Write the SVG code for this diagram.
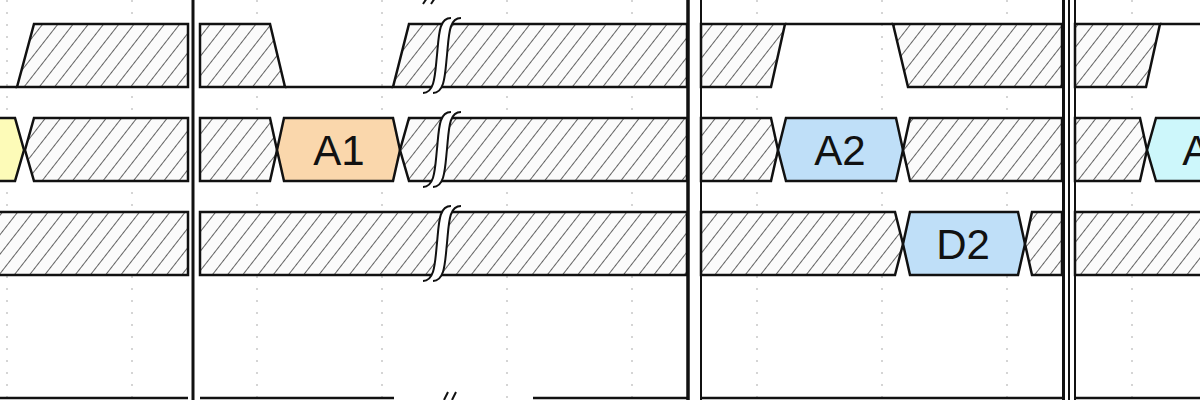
<svg xmlns="http://www.w3.org/2000/svg" width="1200" height="400" viewBox="0 0 1200 400">
<style>
.g{stroke:#c8c8c8;stroke-width:1.5;stroke-dasharray:2 10}
.h{fill:url(#hatch);stroke:#111;stroke-width:2.5;stroke-linejoin:miter}
.ln{fill:none;stroke:#111;stroke-width:2.5}
.bk{fill:#fff;stroke:none}
.bc{fill:none;stroke:#111;stroke-width:2}
.t{font-family:"Liberation Sans",Arial,sans-serif;font-size:42px;fill:#111;text-anchor:middle}
.v{stroke:#111}
</style>
<defs>
<pattern id="hatch" patternUnits="userSpaceOnUse" width="12" height="12" patternTransform="rotate(38)">
<rect width="12" height="12" fill="#fbfbfb"/>
<line x1="0" y1="0" x2="0" y2="12" stroke="#222" stroke-width="1.4"/>
</pattern>
<g id="brk">
<path class="bk" d="M-22,69 C-10,69 -10,50 -8,31 C-6,10 -6,-6 6,-6 L16,-6 C4,-6 4,10 2,31 C0,50 0,69 -12,69 Z"/>
<path class="bc" d="M-22,69 C-10,69 -10,50 -8,31 C-6,10 -6,-6 6,-6"/>
<path class="bc" d="M-12,69 C0,69 0,50 2,31 C4,10 4,-6 16,-6"/>
</g>
</defs>
<g id="grid">
<line class="g" x1="7" y1="0" x2="7" y2="400"/>
<line class="g" x1="132" y1="0" x2="132" y2="400"/>
<line class="g" x1="257" y1="0" x2="257" y2="400"/>
<line class="g" x1="382" y1="0" x2="382" y2="400"/>
<line class="g" x1="507" y1="0" x2="507" y2="400"/>
<line class="g" x1="632" y1="0" x2="632" y2="400"/>
<line class="g" x1="757" y1="0" x2="757" y2="400"/>
<line class="g" x1="882" y1="0" x2="882" y2="400"/>
<line class="g" x1="1007" y1="0" x2="1007" y2="400"/>
<line class="g" x1="1132" y1="0" x2="1132" y2="400"/>
</g>
<g id="row1">
<path class="ln" d="M0,87 H17"/>
<path class="h" d="M17,87 L34,24 H188 V87 Z"/>
<path class="h" d="M200,24 H270 L285,87 H200 Z"/>
<path class="ln" d="M285,87 H393"/>
<path class="h" d="M393,87 L409,24 H687 V87 Z"/>
<path class="h" d="M701,24 H785 L771,87 H701 Z"/>
<path class="ln" d="M785,24 H893"/>
<path class="h" d="M893,24 H1062 V87 H908 Z"/>
<path class="h" d="M1075,24 H1160 L1146,87 H1075 Z"/>
<path class="ln" d="M1160,24 H1200"/>
<use href="#brk" x="445" y="24"/>
</g>
<g id="row2">
<path d="M-10,118 H15 L24,150 L15,181 H-10 Z" fill="#fdfbb8" stroke="#111" stroke-width="2.5"/>
<path class="h" d="M25,150 L34,118 H188 V181 H34 Z"/>
<path class="h" d="M200,118 H270 L277,150 L270,181 H200 Z"/>
<path d="M277,150 L284,118 H393 L400,150 L393,181 H284 Z" fill="#fad7ac" stroke="#111" stroke-width="2.5"/>
<path class="h" d="M400,150 L409,118 H687 V181 H409 Z"/>
<path class="h" d="M701,118 H771 L778,150 L771,181 H701 Z"/>
<path d="M778,150 L786,118 H896 L903,150 L896,181 H786 Z" fill="#bfdff8" stroke="#111" stroke-width="2.5"/>
<path class="h" d="M903,150 L910,118 H1062 V181 H910 Z"/>
<path class="h" d="M1075,118 H1140 L1147,150 L1140,181 H1075 Z"/>
<path d="M1147,150 L1156,118 H1210 V181 H1156 Z" fill="#cdf7fb" stroke="#111" stroke-width="2.5"/>
<text class="t" x="339" y="165">A1</text>
<text class="t" x="840" y="165">A2</text>
<text class="t" x="1208" y="165">A3</text>
<use href="#brk" x="445" y="118"/>
</g>
<g id="row3">
<path class="h" d="M-5,212 H188 V275 H-5 Z"/>
<path class="h" d="M200,212 H687 V275 H200 Z"/>
<path class="h" d="M701,212 H895 L903,244 L895,275 H701 Z"/>
<path d="M903,244 L910,212 H1018 L1025,244 L1018,275 H910 Z" fill="#bfdff8" stroke="#111" stroke-width="2.5"/>
<path class="h" d="M1025,244 L1032,212 H1062 V275 H1032 Z"/>
<path class="h" d="M1075,212 H1205 V275 H1075 Z"/>
<text class="t" x="963" y="259">D2</text>
<use href="#brk" x="445" y="212"/>
</g>
<g id="row4">
<path class="ln" d="M0,398 H188 M200,398 H394 M533,398 H687 M701,398 H1062 M1075,398 H1200"/>
<path class="bc" d="M444,400 L448,392 M452,400 L456,392"/>
<path class="bc" d="M423,4 L427,-2 M431,4 L435,-2"/>
</g>
<g id="markers">
<line class="v" x1="193" y1="0" x2="193" y2="400" stroke-width="3"/>
<line class="v" x1="688" y1="0" x2="688" y2="400" stroke-width="3.5"/>
<line class="v" x1="701" y1="0" x2="701" y2="400" stroke-width="2"/>
<line class="v" x1="1063.5" y1="0" x2="1063.5" y2="400" stroke-width="3"/>
<line class="v" x1="1069" y1="0" x2="1069" y2="400" stroke-width="2"/>
<line class="v" x1="1075" y1="0" x2="1075" y2="400" stroke-width="2"/>
</g>
</svg>
